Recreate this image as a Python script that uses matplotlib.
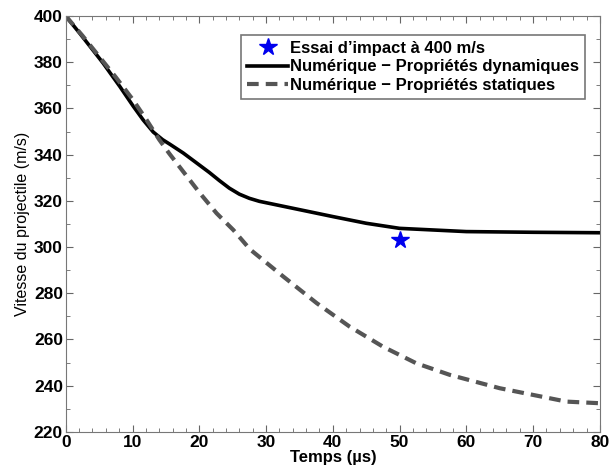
import matplotlib.pyplot as plt
from matplotlib.ticker import MultipleLocator

plt.rcParams['font.family'] = ['Liberation Sans', 'DejaVu Sans']

# essai d'impact
t_essai = [50]
v_essai = [303]

# numerique - proprietes dynamiques
t_dyn = [0, 2.1, 5.6, 8.1, 10.1, 11.6, 13.1, 14.5, 15.6, 17.6, 19.6, 21.5, 23, 24.5, 26, 27.5, 29, 32, 35,
         40, 45, 50, 55, 60, 70, 80]
v_dyn = [400, 392.5, 379.6, 369.5, 361, 355, 349.8, 346.5, 344.5, 340.7, 336.4, 332.3, 328.8, 325.5, 322.9,
         321.1, 319.8, 318, 316.2, 313.2, 310.3, 308.1, 307.4, 306.7, 306.4, 306.2]

# numerique - proprietes statiques
t_stat = [0, 2.5, 5, 7.5, 10, 12, 14, 15.5, 17.1, 20.1, 22.6, 25.1, 27.6, 32.6, 37.6, 42.5, 47.5, 52.5,
          57.5, 65, 70, 75, 80]
v_stat = [400, 391.5, 382.5, 373.5, 364, 355.5, 346.5, 340.5, 334.5, 323.3, 314.6, 307.4, 299, 287.2, 275.7,
          265.6, 256.9, 249.7, 244.7, 238.9, 236, 233.1, 232.4]

fig = plt.figure(figsize=(6.09, 4.72), dpi=100)
ax = fig.add_axes([0.108, 0.085, 0.877, 0.881])

ax.plot(t_essai, v_essai, linestyle='none', marker='*', color='#0000ee', markersize=13,
        label="Essai d\u2019impact \u00e0 400 m/s")
ax.plot(t_dyn, v_dyn, color='black', linewidth=2.6, label='Num\u00e9rique \u2212 Propri\u00e9t\u00e9s dynamiques')
ax.plot(t_stat, v_stat, color='#555555', linewidth=3, linestyle=(0, (2.8, 1.7)),
        label='Num\u00e9rique \u2212 Propri\u00e9t\u00e9s statiques')

ax.set_xlim(0, 80)
ax.set_ylim(220, 400)
ax.xaxis.set_major_locator(MultipleLocator(10))
ax.xaxis.set_minor_locator(MultipleLocator(2))
ax.yaxis.set_major_locator(MultipleLocator(20))
ax.yaxis.set_minor_locator(MultipleLocator(10))
ax.tick_params(which='both', direction='in', top=True, right=True, color='#666666')
ax.tick_params(which='major', length=5, labelsize=12.5, pad=2)
ax.tick_params(which='minor', length=3)
for lab in ax.get_xticklabels() + ax.get_yticklabels():
    lab.set_fontweight('bold')
for sp in ax.spines.values():
    sp.set_color('#777777')

ax.set_xlabel('Temps (\u00b5s)', fontsize=12, fontweight='bold', labelpad=0)
ax.set_ylabel('Vitesse du projectile (m/s)', fontsize=11.5, labelpad=3)

leg = ax.legend(loc='upper right', bbox_to_anchor=(0.972, 0.954), borderaxespad=0,
                fancybox=False, framealpha=1, edgecolor='#777777', handlelength=2.5,
                handletextpad=0.1, labelspacing=0.2, borderpad=0.35,
                prop={'weight': 'bold', 'size': 12})
leg.get_frame().set_linewidth(1.2)

fig.savefig('out.png', dpi=100)
